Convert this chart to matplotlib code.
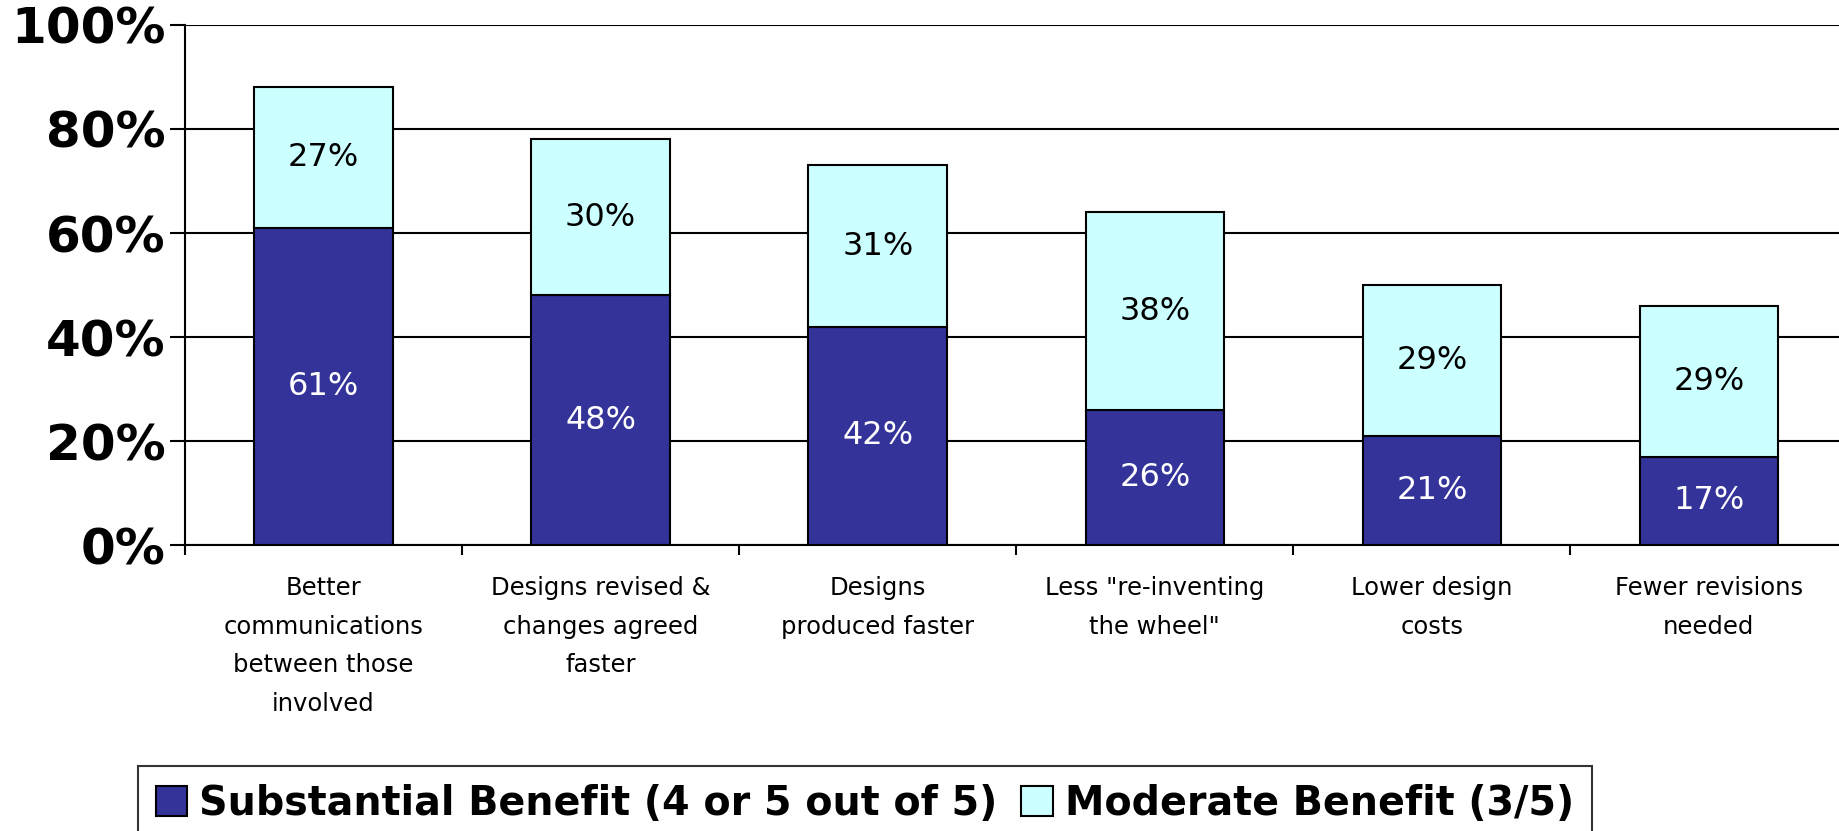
import numpy as np
import matplotlib
matplotlib.use("Agg")
import matplotlib.pyplot as plt
from matplotlib.patches import Patch

categories = [
    "Better\ncommunications\nbetween those\ninvolved",
    "Designs revised &\nchanges agreed\nfaster",
    "Designs\nproduced faster",
    "Less \"re-inventing\nthe wheel\"",
    "Lower design\ncosts",
    "Fewer revisions\nneeded",
]
substantial = [61, 48, 42, 26, 21, 17]
moderate = [27, 30, 31, 38, 29, 29]
series_names = ["Substantial Benefit (4 or 5 out of 5)", "Moderate Benefit (3/5)"]
dark = "#333399"
light = "#CCFFFF"

plt.rcParams["font.family"] = "DejaVu Sans"

fig = plt.figure(figsize=(18.39, 8.31), dpi=100)
ax = fig.add_axes([0.1006, 0.344, 0.904, 0.626])

x = np.arange(len(categories))
ax.bar(x, substantial, width=0.5, color=dark, edgecolor="black", linewidth=1.5, zorder=3)
ax.bar(x, moderate, width=0.5, bottom=substantial, color=light, edgecolor="black",
       linewidth=1.5, zorder=3)

for i in range(len(categories)):
    ax.text(x[i], substantial[i] / 2, f"{substantial[i]}%", ha="center", va="center",
            color="white", fontsize=23, zorder=4)
    ax.text(x[i], substantial[i] + moderate[i] / 2, f"{moderate[i]}%", ha="center",
            va="center", color="black", fontsize=23, zorder=4)

ax.set_xlim(-0.5, len(categories) - 0.5)
ax.set_ylim(0, 100)
ax.set_yticks(range(0, 101, 20))
ax.set_yticklabels([f"{v}%" for v in range(0, 101, 20)], fontsize=36, fontweight="bold")
ax.tick_params(axis="y", length=11, width=1.5, pad=3)
ax.yaxis.grid(True, color="black", linewidth=1.5, zorder=0)

ax.set_xticks(np.arange(-0.5, len(categories) + 0.5, 1))
ax.set_xticklabels([])
ax.tick_params(axis="x", which="major", length=7, width=1.5)
ax.set_xticks(x, minor=True)
ax.set_xticklabels(categories, minor=True, fontsize=17.5, linespacing=1.78)
ax.tick_params(axis="x", which="minor", length=0, pad=22)

for s in ["top", "right"]:
    ax.spines[s].set_visible(False)
ax.spines["left"].set_linewidth(1.5)
ax.spines["bottom"].set_linewidth(1.5)

handles = [Patch(facecolor=dark, edgecolor="black", linewidth=1.5),
           Patch(facecolor=light, edgecolor="black", linewidth=1.5)]
leg = fig.legend(handles, series_names, loc="upper left", bbox_to_anchor=(0.075, 0.078),
                 ncol=2, prop={"weight": "bold", "size": 28.5}, frameon=True,
                 fancybox=False, edgecolor="black", handlelength=0.8, handleheight=0.8,
                 handletextpad=0.3, columnspacing=0.6, borderpad=0.45, borderaxespad=0)
leg.get_frame().set_linewidth(1.5)

fig.savefig("out.png", dpi=100)
